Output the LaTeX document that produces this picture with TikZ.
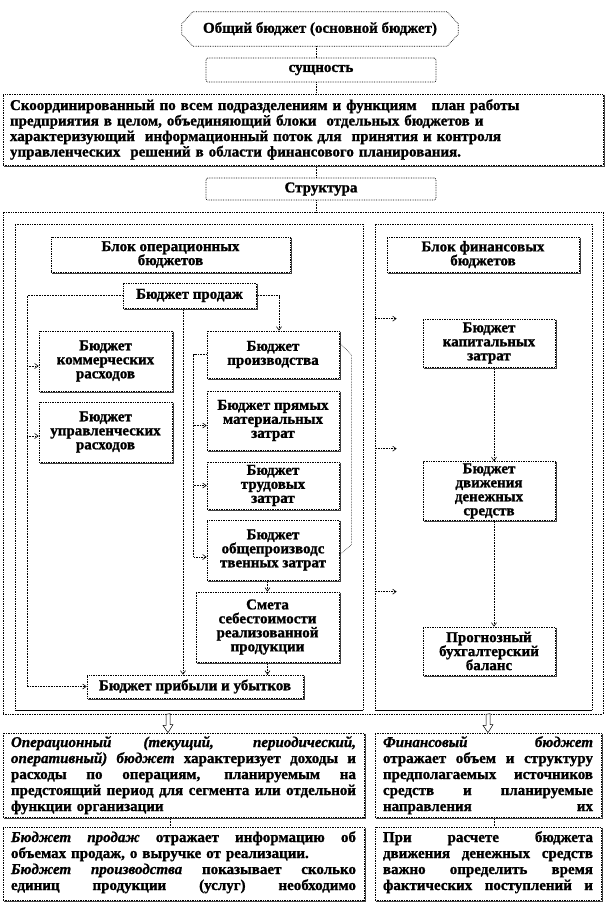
\documentclass[tikz,border=0pt]{standalone}
\usepackage{fontspec}
\setmainfont{Liberation Serif}[BoldFeatures={FakeBold=1.2},BoldItalicFeatures={FakeBold=1.2}]
\usetikzlibrary{arrows.meta,calc}
\newcommand\jl[1]{\leavevmode\hbox to \hsize{\spaceskip=0.22em plus 1fil\xspaceskip=0.22em plus 1fil #1}\par}
\newcommand\lastl[1]{\leavevmode\hbox to \hsize{#1\hfil}\par}
\begin{document}
\begin{tikzpicture}[x=1pt,y=-1pt,
  bx/.style={draw=black, densely dotted, line width=0.7pt, fill=white, inner sep=2pt, align=center,
    font=\bfseries\fontsize{15}{14}\selectfont},
  conn/.style={draw=black, densely dotted, line width=0.6pt},
  arr/.style={conn, -{Straight Barb[length=3.5pt,width=5pt]}},
  shd/.style={draw=black!75, solid, line width=0.7pt},
  hol/.style={draw=black, solid, line width=0.5pt, fill=white},
  tb/.style={bx, text width=#1, inner xsep=8pt, font=\bfseries\fontsize{15}{16}\selectfont},
  cont/.style={bx, inner sep=0pt}
]
\fill[white] (0,0) rectangle (606,903);
\useasboundingbox (0,0) rectangle (606,903);

% top chain
\node[minimum width=276pt, minimum height=34pt, inner sep=0pt, font=\bfseries\fontsize{15}{14}\selectfont] (oct) at (320,29) {Общий бюджет (основной бюджет)};
\draw[conn, line width=0.7pt] ([xshift=11pt]oct.north west) -- ([xshift=-11pt]oct.north east) -- ([yshift=-12pt]oct.north east)
  -- ([yshift=12pt]oct.south east) -- ([xshift=-11pt]oct.south east) -- ([xshift=11pt]oct.south west)
  -- ([yshift=12pt]oct.south west) -- ([yshift=-12pt]oct.north west) -- cycle;
\node[bx, rounded corners=2pt, minimum width=230pt, minimum height=24pt] (sush) at (321,70) {сущность};
\node[bx, text width=586pt, inner xsep=7pt, minimum height=71pt, align=left,
  font=\bfseries\fontsize{15}{15.5}\selectfont] (desc) at (303,129.5)
  {Скоординированный по всем подразделениям и функциям~~ план работы\\
   предприятия в целом, объединяющий блоки~ отдельных бюджетов и\\
   характеризующий~ информационный поток для~ принятия и контроля\\
   управленческих~ решений в области финансового планирования.};
\node[bx, rounded corners=2pt, minimum width=230pt, minimum height=22pt] (struct) at (321,189) {Структура};

% containers
\node[cont, minimum width=600pt, minimum height=502pt] (outer) at (303,463) {};
\node[cont, minimum width=348pt, minimum height=486pt] (opc) at (189,467) {};
\node[cont, minimum width=217pt, minimum height=486pt] (finc) at (483.5,467) {};
\draw[black, line width=1pt] ([yshift=-0.5pt]opc.south west) -- ([yshift=-0.5pt]opc.south east);
\draw[black, line width=1pt] ([yshift=-0.5pt]finc.south west) -- ([yshift=-0.5pt]finc.south east);

% operational block
\node[bx, minimum width=239pt, minimum height=35pt] (bop) at (170.5,254.5) {Блок операционных\\бюджетов};
\node[bx, minimum width=133pt, minimum height=25pt] (prod) at (189.5,295.5) {Бюджет продаж};
\node[bx, minimum width=133pt, minimum height=60pt] (komm) at (105.5,361) {Бюджет\\коммерческих\\расходов};
\node[bx, minimum width=133pt, minimum height=60pt] (upr) at (105.5,432) {Бюджет\\управленческих\\расходов};
\node[bx, minimum width=132pt, minimum height=47pt] (pr) at (273,354.5) {Бюджет\\производства};
\node[bx, minimum width=132pt, minimum height=59pt] (mat) at (273,420.5) {Бюджет прямых\\материальных\\затрат};
\node[bx, minimum width=132pt, minimum height=47pt] (trud) at (273,485.5) {Бюджет\\трудовых\\затрат};
\node[bx, minimum width=132pt, minimum height=60pt] (obsh) at (273,550) {Бюджет\\общепроизводс\\твенных затрат};
\node[bx, minimum width=143pt, minimum height=70pt] (smeta) at (267.5,627) {Смета\\себестоимости\\реализованной\\продукции};
\node[bx, minimum width=216pt, minimum height=23pt] (prib) at (195,686.5) {Бюджет прибыли и убытков};

% financial block
\node[bx, minimum width=192pt, minimum height=35pt] (bfin) at (483,254.5) {Блок финансовых\\бюджетов};
\node[bx, minimum width=132pt, minimum height=48pt] (kap) at (489,343) {Бюджет\\капитальных\\затрат};
\node[bx, minimum width=132pt, minimum height=58pt] (dds) at (489,491) {Бюджет\\движения\\денежных\\средств};
\node[bx, minimum width=132pt, minimum height=48pt] (bal) at (489,651) {Прогнозный\\бухгалтерский\\баланс};

% bottom text boxes
\node[tb=345pt, text height=12pt, text depth=68pt] (tb1L) at (183.5,775) {%
\jl{{\itshape Операционный} {\itshape (текущий,} {\itshape периодический,}}%
\jl{{\itshape оперативный) бюджет} характеризует доходы и}%
\jl{расходы по операциям, планируемым на}%
\jl{предстоящий период для сегмента или отдельной}%
\lastl{функции организации}};
\begin{scope}
\clip (373,731) rectangle (604,818.5);
\node[tb=210pt, text height=12pt, text depth=68pt] (tb1R) at (488,775) {%
\jl{{\itshape Финансовый} {\itshape бюджет}}%
\jl{отражает объем и структуру}%
\jl{предполагаемых источников}%
\jl{средств и планируемые}%
\jl{направления их}%
\lastl{использования}};
\end{scope}
\node[tb=345pt, text height=13pt, text depth=56pt] (tb2L) at (183.5,863.5) {%
\jl{{\itshape Бюджет продаж} отражает информацию об}%
\lastl{объемах продаж, о выручке от реализации.}%
\jl{{\itshape Бюджет производства} показывает сколько}%
\jl{единиц продукции (услуг) необходимо}};
\node[tb=210pt, text height=13pt, text depth=56pt] (tb2R) at (488,863.5) {%
\jl{При расчете бюджета}%
\jl{движения денежных средств}%
\jl{важно определить время}%
\jl{фактических поступлений и}};

% shadows
\foreach \n in {desc,bop,bfin,prod,komm,upr,pr,mat,trud,obsh,smeta,prib,kap,dds,bal,tb1L,tb1R,tb2L,tb2R}
  \draw[shd] ([xshift=0.8pt,yshift=-1pt]\n.north east) -- ([xshift=0.8pt,yshift=-0.8pt]\n.south east) -- ([xshift=1pt,yshift=-0.8pt]\n.south west);

% top connectors
\coordinate (T) at (316,0);
\draw[conn] (T |- oct.south) -- (T |- sush.north);
\draw[conn] (T |- sush.south) -- (T |- desc.north);
\draw[conn] (T |- desc.south) -- (T |- struct.north);
\draw[conn] (T |- struct.south) -- (T |- outer.north);

% sales budget connectors
\coordinate (L) at (27,300);
\draw[arr] (prod.west) -- (L |- prod.west) |- (prib.west);
\path ([yshift=-5pt]komm.west) coordinate (k1);
\path ([yshift=-4pt]upr.west) coordinate (u1);
\draw[arr] (k1 -| L) -- (k1);
\draw[arr] (u1 -| L) -- (u1);
\path ([xshift=6pt]pr.north) coordinate (p1);
\draw[arr] (prod.east) -| (p1);
\path ([xshift=-6.5pt]prod.south) coordinate (s1);
\draw[arr] (s1) -- (s1 |- prib.north);

% production bus
\path (pr.west) ++(-13,0) coordinate (B);
\path ([yshift=-5pt]mat.west) coordinate (m1);
\path ([yshift=-7pt]obsh.west) coordinate (o1);
\draw[arr] (pr.west) -- (B) -- (B |- o1) -- (o1);
\draw[arr] (B |- m1) -- (m1);
\draw[arr] (B |- trud.west) -- (trud.west);
\path ([yshift=-12pt]pr.north east) coordinate (f1);
\path ([yshift=-5pt]obsh.east) coordinate (f4);
\draw[conn] (f1) -- ++(12,12) -- ($(f4)+(12,-10)$) -- (f4);
\draw[arr] (smeta.north |- obsh.south) -- (smeta.north);
\draw[arr] (smeta.south) -- (smeta.south |- prib.north);

% financial connectors
\foreach \dy in {95,225,368}
  \draw[arr] ([yshift=-\dy pt]finc.north west) -- ++(22,0);
\path ([xshift=5pt]kap.south) coordinate (c1);
\draw[arr] (c1) -- (c1 |- dds.north);
\draw[arr] (c1 |- dds.south) -- (c1 |- bal.north);

% hollow arrows and bottom connectors
\coordinate (H1) at (168,0);
\coordinate (H2) at (488,0);
\draw[hol] (H1 |- outer.south) ++(-2,0) -- ++(0,11) -- ++(-3,0) -- (H1 |- tb1L.north) -- ++(5,-8) -- ++(-3,0) -- ++(0,-11) -- cycle;
\draw[hol] (H2 |- outer.south) ++(-2,0) -- ++(0,11) -- ++(-3,0) -- (H2 |- tb1R.north) -- ++(5,-8) -- ++(-3,0) -- ++(0,-11) -- cycle;
\coordinate (D1) at (170,0);
\coordinate (D2) at (494,0);
\draw[conn] (D1 |- tb1L.south) -- (D1 |- tb2L.north);
\draw[conn] (D2 |- tb1R.south) -- (D2 |- tb2R.north);
\end{tikzpicture}
\end{document}
